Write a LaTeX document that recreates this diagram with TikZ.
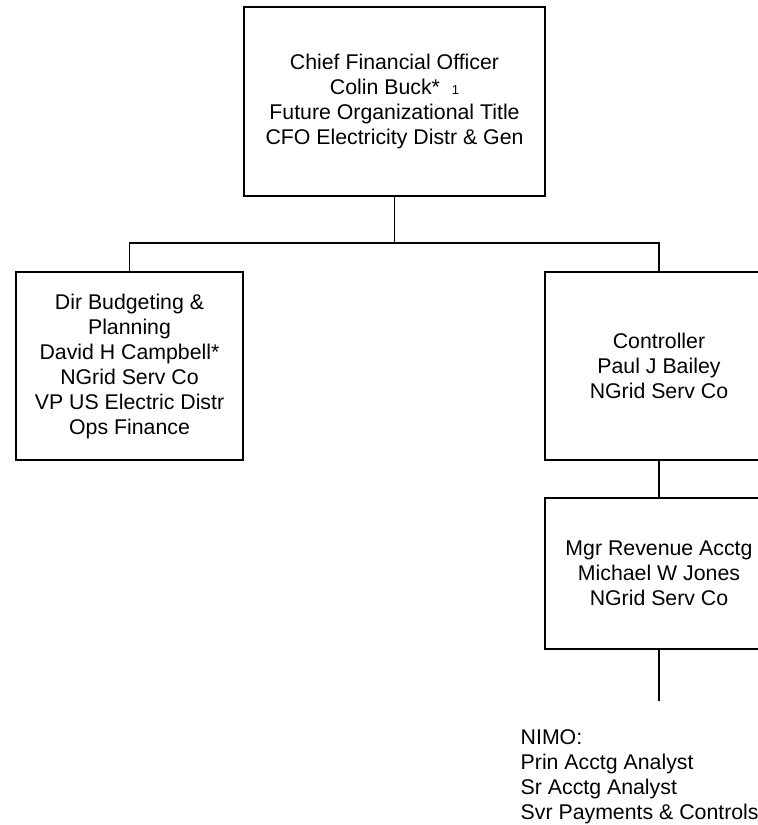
\documentclass[tikz,border=0pt]{standalone}
\usepackage{fontspec}
\setmainfont{Liberation Sans}
\usepackage{tikz}
\usetikzlibrary{positioning,calc}

\begin{document}
\begin{tikzpicture}[x=1pt, y=-1pt, line width=1.4pt,
    orgbox/.style={draw, rectangle, inner sep=0pt, align=center, font=\fontsize{21.3}{25}\selectfont},
    link/.style={draw, line width=1.4pt}]
    \useasboundingbox (0,0) rectangle (758,825);
    \node[orgbox, minimum width=301pt, minimum height=189pt] (cfo) at (394.5,101.5)
        {Chief Financial Officer\\Colin Buck*\ \ {\fontsize{13}{13}\selectfont 1}\\Future Organizational Title\\CFO Electricity Distr \& Gen};
    \node[orgbox, minimum width=227pt, minimum height=188pt] (budget) at (129.5,366)
        {Dir Budgeting \&\\Planning\\David H Campbell*\\NGrid Serv Co\\VP US Electric Distr\\Ops Finance};
    \node[orgbox, minimum width=228pt, minimum height=188pt] (ctrl) at (659,366)
        {Controller\\Paul J Bailey\\NGrid Serv Co};
    \node[orgbox, minimum width=228pt, minimum height=151pt] (rev) at (659,573.5)
        {Mgr Revenue Acctg\\Michael W Jones\\NGrid Serv Co};
    \node[anchor=north west, inner sep=0pt, align=left, font=\fontsize{21.3}{25}\selectfont] (nimo) at (520,729)
        {NIMO:\\Prin Acctg Analyst\\Sr Acctg Analyst\\Svr Payments \& Controls};
    % connectors
    \coordinate (bus) at (394.5,243);
    \coordinate (revend) at (659,701);
    \draw[link] (cfo.south) -- (bus);
    \draw[link] (budget.north) |- (bus) -| (ctrl.north);
    \draw[link] (ctrl.south) -- (rev.north);
    \draw[link] (rev.south) -- (revend);
\end{tikzpicture}
\end{document}
